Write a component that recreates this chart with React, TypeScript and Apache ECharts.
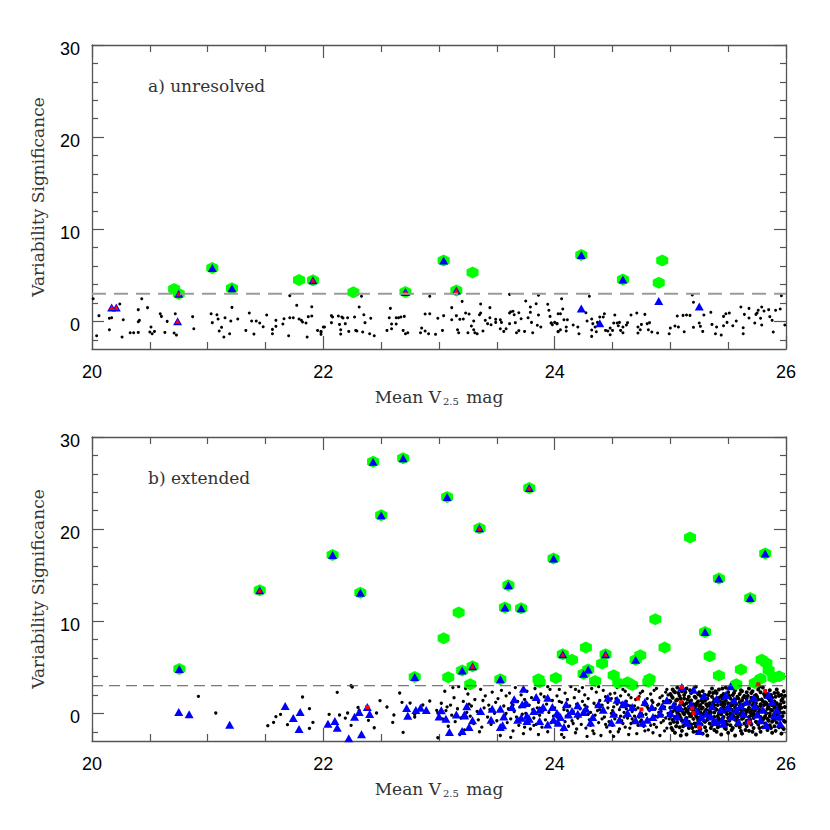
import React, { useEffect, useRef } from "react";
import * as echarts from "echarts";

const xLabelTicks = [20, 22, 24, 26];
const yMajor = [0, 10, 20, 30];
const yMinor = [-2, 2, 4, 6, 8, 12, 14, 16, 18, 22, 24, 26, 28];
const threshold = 3;

// ---------- panel a) unresolved ----------
const aBlack = [
  [20.01,2.46],[20.06,0.62],[20.04,-1.56],[20.15,0.33],[20.17,0.40],[20.15,-0.91],[20.24,1.88],[20.27,0.18],[20.26,-1.70],[20.33,-1.23],[20.36,-1.23],[20.40,1.27],[20.41,0.11],[20.40,-0.04],[20.40,-1.20],[20.43,2.46],[20.48,1.49],[20.51,-0.62],[20.50,-1.16],[20.54,-1.09],[20.52,-1.34],[20.59,0.83],[20.60,0.54],[20.65,0.00],[20.63,-1.20],[20.72,0.83],[20.71,-1.27],[20.73,-1.49],[20.87,0.51],[20.88,-0.80],[21.03,0.83],[21.08,0.72],[21.04,-0.14],[21.09,0.25],[21.12,-0.65],[21.10,-1.05],[21.15,0.40],[21.20,0.04],[21.21,1.52],[21.19,-1.34],[21.26,0.25],[21.14,-1.70],[21.33,-0.98],[21.36,0.91],[21.38,0.04],[21.40,-1.38],[21.42,0.04],[21.45,-0.18],[21.48,-0.58],[21.51,0.69],[21.56,-1.34],[21.56,-0.87],[21.59,-0.54],[21.59,0.11],[21.65,-0.29],[21.66,0.29],[21.71,0.40],[21.74,0.40],[21.71,2.79],[21.77,1.74],[21.70,-1.56],[21.79,0.25],[21.81,0.11],[21.82,-0.07],[21.85,-0.18],[21.86,-1.70],[21.87,0.51],[21.90,0.58],[21.90,1.59],[21.95,-0.98],[21.98,-1.09],[21.98,-1.41],[22.00,-0.62],
  [21.98,-1.16],[22.01,-0.62],[22.07,0.62],[22.07,-0.14],[22.08,0.47],[22.13,0.58],[22.14,-0.33],[22.15,-0.91],[22.15,-1.38],[22.16,0.47],[22.17,0.36],[22.19,-0.25],[22.21,0.40],[22.22,-1.09],[22.27,0.47],[22.28,-0.98],[22.29,-1.05],[22.31,1.56],[22.35,0.72],[22.36,-0.14],[22.34,-1.16],[22.40,-1.34],[22.41,0.33],[22.44,-1.56],[22.33,2.72],[22.55,-0.98],[22.57,0.40],[22.58,1.41],[22.59,-0.29],[22.59,-0.80],[22.63,-0.29],[22.63,0.40],[22.65,0.40],[22.67,0.47],[22.70,0.54],[22.69,-0.98],[22.71,-1.34],[22.73,-1.23],[22.84,-1.23],[22.85,-0.73],[22.88,0.80],[22.88,-1.05],[22.92,0.83],[22.92,2.72],[22.91,-1.34],[22.97,-1.41],[22.99,0.33],[23.03,-0.98],[23.04,0.62],[23.11,0.18],[23.11,1.49],[23.15,0.62],[23.16,-0.91],[23.17,-1.23],[23.18,0.22],[23.20,2.17],[23.21,0.25],[23.23,0.91],[23.25,-1.23],[23.26,0.80],[23.28,-0.51],[23.30,0.04],[23.30,-0.91],[23.31,-1.23],[23.33,-1.34],[23.35,0.72],[23.36,0.91],[23.36,1.88],[23.38,-1.05],[23.40,0.11],[23.42,-0.25],[23.44,1.49],[23.44,0.40],[23.45,-0.36],[23.49,0.22],[23.49,-0.11],[23.53,-0.80],[23.53,0.18],[23.54,-0.11],[23.56,-1.09],[23.58,-0.80],[23.61,2.93],[23.61,-0.25],[23.61,0.91],[23.62,1.05],[23.64,1.09],[23.65,0.72],[23.66,-0.14],[23.67,-1.23],[23.69,0.94],[23.69,-1.01],[23.71,0.29],[23.74,-1.09],[23.75,2.21],[23.77,0.40],[23.79,1.56],[23.79,0.98],[23.80,-0.11],[23.81,-1.23],[23.84,1.92],[23.85,-0.43],[23.86,2.83],[23.86,0.69],[23.88,-0.62],[23.94,1.85],[23.95,1.20],[23.97,-0.18],[23.96,0.54],[23.98,-0.36],[24.02,-0.25],[24.03,0.83],[24.03,-1.09],
  [23.97,-0.18],[24.00,-0.11],[24.02,-0.25],[24.05,-0.91],[24.05,0.83],[24.07,1.34],[24.08,0.18],[24.06,2.46],[24.03,-1.12],[24.10,-1.05],[24.11,0.18],[24.10,-0.62],[24.16,-0.40],[24.20,-0.62],[24.21,-1.34],[24.27,0.94],[24.28,0.04],[24.30,2.72],[24.32,0.25],[24.32,-0.94],[24.32,-1.63],[24.33,-0.25],[24.35,-0.62],[24.36,-1.12],[24.37,-0.11],[24.39,0.47],[24.42,0.47],[24.43,0.83],[24.44,-0.98],[24.46,-1.05],[24.48,-0.73],[24.48,-1.45],[24.50,-0.98],[24.51,-0.18],[24.52,0.69],[24.54,-0.18],[24.55,-0.47],[24.56,-0.11],[24.57,-0.98],[24.59,-0.62],[24.59,-1.23],[24.62,-0.40],[24.63,-0.14],[24.66,0.69],[24.71,0.91],[24.72,-0.62],[24.72,-1.27],[24.74,-0.91],[24.75,-0.33],[24.78,0.76],[24.80,-0.25],[24.81,-0.91],[24.82,-0.14],[24.84,-1.16],[24.89,-1.27],[24.99,-1.34],[25.00,-0.73],[25.04,-0.51],[25.06,0.58],[25.07,-0.62],[25.11,0.65],[25.12,-1.12],[25.14,0.69],[25.17,0.65],[25.19,2.86],[25.20,2.07],[25.20,-0.65],[25.25,-0.18],[25.26,-0.54],[25.28,-1.09],[25.29,0.69],[25.35,0.98],[25.36,-0.33],[25.39,-1.34],[25.40,-0.62],[25.44,-1.49],[25.46,-0.47],[25.46,0.54],[25.48,0.83],[25.49,-0.11],[25.51,0.91],[25.54,-0.47],[25.57,0.04],[25.61,1.56],[25.63,-0.69],[25.63,-1.34],[25.64,0.76],[25.68,1.41],[25.68,0.36],[25.73,-0.18],[25.74,0.76],[25.75,0.91],[25.76,1.20],[25.78,0.33],[25.79,1.56],[25.79,-0.40],[25.81,1.12],[25.85,1.27],[25.86,0.51],[25.89,-1.16],[25.88,0.11],[25.91,1.20],[25.95,1.34],[25.96,2.79],[25.99,-0.40]
];
const aGreen = [
  [20.71,3.5],[20.75,3.0],[21.04,5.8],[21.21,3.6],[21.79,4.5],[21.91,4.45],[22.26,3.15],[22.71,3.2],
  [23.04,6.6],[23.29,5.3],[23.15,3.35],[24.23,7.2],[24.59,4.55],[24.93,6.6],[24.90,4.2]
];
const aBlue = [
  [20.17,1.5],[20.21,1.5],[20.74,0.0],[20.75,3.0],[21.04,5.8],[21.21,3.6],[21.91,4.45],[22.71,3.2],
  [23.04,6.6],[23.15,3.35],[24.23,7.2],[24.59,4.55],[24.23,1.4],[24.39,-0.2],[24.90,2.2],[25.25,1.6]
];
const aRed = [[20.17,1.5],[20.21,1.5],[20.74,0.0],[20.75,3.0],[21.91,4.45],[22.71,3.2],[23.15,3.35]];

// ---------- panel b) extended ----------
const bBlack = [
  [20.92,1.85],[21.07,0.04],[21.52,-1.34],[21.57,-0.98],[21.59,-0.36],[21.63,-0.11],[21.69,-1.23],[21.82,1.78],[21.88,0.51],[21.88,-1.63],[21.91,-0.98],[22.05,-0.11],[22.12,2.28],[22.14,-0.18],[22.19,-0.51],[22.21,0.04],[22.24,-1.30],[22.25,2.86],[22.24,3.0],[22.30,0.65],[22.31,0.33],[22.39,-0.76],[22.44,-1.56],[22.46,0.04],[22.49,1.38],[22.55,0.69],[22.60,-0.98],[22.61,-0.18],[22.66,2.21],[22.68,1.20],[22.69,-2.07],[22.75,1.12],[22.79,-0.11],[22.79,-0.40],[22.86,0.91],[22.92,1.34],[22.98,0.33],[22.99,0.04],[22.99,-2.65],
  [23.02,1.1],[23.03,-0.6],[23.05,2.4],[23.06,0.3],[23.08,-1.4],[23.10,0.9],[23.11,-0.2],[23.13,1.7],[23.14,-0.9],[23.16,0.5],[23.17,2.9],[23.19,-0.5],[23.21,1.3],[23.22,-1.8],[23.24,0.1],[23.25,2.1],[23.27,-0.3],[23.28,0.8],[23.30,-1.1],[23.31,1.5],[23.33,0.2],[23.34,-0.7],[23.36,2.6],[23.37,-1.5],[23.39,0.6],[23.40,1.9],[23.42,-0.4],[23.43,0.9],[23.45,-1.2],[23.46,2.3],[23.48,0.0],[23.49,1.2],[23.12,2.8],[23.18,-2.3],[23.26,1.0],[23.35,-2.0],[23.44,0.4],[23.07,0.7],[23.23,2.7],[23.38,1.4],
  [23.50,-0.8],[23.51,1.6],[23.52,0.3],[23.54,2.5],[23.55,-1.6],[23.56,0.8],[23.57,-0.2],[23.58,1.9],[23.59,-1.0],[23.60,0.5],[23.61,2.2],[23.62,-0.6],[23.63,1.1],[23.64,-1.9],[23.65,0.2],[23.66,2.8],[23.67,-0.4],[23.68,1.3],[23.69,-1.3],[23.70,0.7],[23.71,2.0],[23.72,-0.1],[23.73,-2.2],[23.74,1.5],[23.75,0.0],[23.76,2.4],[23.77,-0.9],[23.78,0.9],[23.79,-1.7],[23.80,1.7],[23.81,0.4],[23.82,-0.5],[23.83,2.7],[23.84,-1.2],[23.85,0.6],[23.86,1.2],[23.87,-0.2],[23.88,2.1],[23.89,-1.5],[23.90,0.3],[23.91,1.8],[23.92,-0.7],[23.93,1.0],[23.94,-2.0],[23.95,0.1],[23.96,2.6],[23.97,-1.0],[23.98,1.4],[23.99,-0.3],[23.53,-2.4],[23.58,0.0],[23.64,0.9],[23.70,-0.7],[23.76,1.1],[23.82,-1.3],[23.88,0.5],[23.94,2.9],[23.62,-2.6],[23.74,-1.5],[23.86,-2.3],
  [24.00,0.6],[24.01,-1.1],[24.02,1.9],[24.03,0.0],[24.04,2.6],[24.05,-0.6],[24.06,1.2],[24.07,-1.8],[24.08,0.4],[24.09,2.2],[24.10,-0.3],[24.11,1.5],[24.12,-1.4],[24.13,0.8],[24.14,2.9],[24.15,-0.8],[24.16,0.2],[24.17,1.7],[24.18,-2.1],[24.19,1.0],[24.20,-0.5],[24.21,2.4],[24.22,0.5],[24.23,-1.2],[24.24,1.3],[24.25,-0.1],[24.26,2.0],[24.27,-1.6],[24.28,0.7],[24.29,1.6],[24.30,-0.7],[24.31,0.1],[24.32,2.7],[24.33,-1.9],[24.34,1.1],[24.35,-0.2],[24.36,2.3],[24.37,0.3],[24.38,-1.0],[24.39,1.4],[24.40,-2.4],[24.41,0.9],[24.42,2.5],[24.43,-0.4],[24.44,1.8],[24.45,-1.5],[24.46,0.6],[24.47,-0.9],[24.48,2.1],[24.49,0.0],[24.02,-0.4],[24.06,-2.3],[24.11,0.3],[24.16,-1.1],[24.21,-0.2],[24.26,0.9],[24.31,-1.3],[24.36,0.8],[24.41,-0.6],[24.46,1.2],[24.04,1.3],[24.09,-0.9],[24.14,0.0],[24.19,-1.7],[24.24,2.8],[24.29,-0.1],[24.34,-2.2],[24.39,0.4],[24.44,-1.2],[24.49,1.6],[24.08,-2.6],[24.18,2.6],[24.28,-2.5],[24.38,2.9],[24.48,-2.0],
  [24.50,-1.3],[24.51,0.7],[24.52,2.2],[24.53,-0.2],[24.54,1.0],[24.55,-2.0],[24.56,0.4],[24.57,1.9],[24.58,-0.8],[24.59,2.6],[24.60,0.1],[24.61,-1.5],[24.62,1.3],[24.63,-0.5],[24.64,2.0],[24.65,0.8],[24.66,-1.1],[24.67,0.2],[24.68,2.8],[24.69,-0.3],[24.70,1.5],[24.71,-2.2],[24.72,0.6],[24.73,1.8],[24.74,-0.9],[24.75,0.0],[24.76,2.4],[24.77,-1.4],[24.78,0.9],[24.79,-0.1],[24.80,1.6],[24.81,-1.8],[24.82,0.3],[24.83,2.1],[24.84,-0.6],[24.85,1.2],[24.86,-1.2],[24.87,0.5],[24.88,2.7],[24.89,-0.4],[24.90,1.0],[24.91,-2.4],[24.92,0.2],[24.93,1.9],[24.94,-0.8],[24.95,0.7],[24.96,2.3],[24.97,-1.6],[24.98,0.0],[24.99,1.4],
  [24.50,0.3],[24.52,-0.6],[24.54,2.8],[24.56,-1.7],[24.58,1.1],[24.60,-0.4],[24.62,0.5],[24.64,-2.3],[24.66,1.7],[24.68,-0.9],[24.70,0.4],[24.72,-1.3],[24.74,2.2],[24.76,-0.2],[24.78,-1.9],[24.80,0.7],[24.82,-0.7],[24.84,1.4],[24.86,2.5],[24.88,-1.5],[24.90,0.1],[24.92,-1.0],[24.94,1.3],[24.96,-0.5],[24.98,2.0],[24.51,-2.5],[24.55,1.4],[24.59,-1.1],[24.63,0.9],[24.67,-0.6],[24.71,2.9],[24.75,-0.7],[24.79,1.0],[24.83,-1.3],[24.87,-0.3],[24.91,1.7],[24.95,-1.9],[24.99,-0.6],[24.53,1.6],[24.57,-0.3],[24.61,2.4],[24.65,-1.6],[24.69,0.8],[24.73,-0.4],[24.77,1.2],[24.81,0.5],[24.85,-2.1],[24.89,0.9],[24.93,-0.2],[24.97,2.6]
];
// faintest magnitudes: each row is [mag, significances...]
const bBlackColumns = [
  [25.00,-1.1,0.6,2.1,-0.3,1.3],[25.01,-0.2,1.9,-1.6],[25.02,0.2,-1.8,1.7,-0.7,2.6],[25.03,0.9,-0.9,2.4],
  [25.04,-0.4,1.0,-2.1,0.5,2.3],[25.05,-1.4,0.3,1.4],[25.06,1.5,-1.0,0.0,2.8,-0.6],[25.07,0.6,-0.1,2.2],
  [25.08,-1.5,0.8,1.9,-0.2,0.3],[25.09,-0.5,1.6,-2.4],[25.10,0.4,-0.8,2.4,-1.9,1.2],[25.11,1.0,-1.4,0.1],
  [25.12,-0.1,1.6,-1.3,0.9,2.0],[25.13,-0.7,2.3,0.5],[25.14,1.1,-0.5,-2.3,0.2,2.7],[25.15,0.3,-1.1,1.5],
  [25.16,-0.9,0.7,1.8,-1.6,0.0],[25.17,1.2,-0.3,2.5],[25.18,0.5,-1.2,2.2,-0.3,1.4],[25.19,-1.6,0.8,0.0],
  [25.20,-0.6,1.0,-2.0,0.3,2.5],[25.21,0.6,-1.1,1.8],[25.22,1.7,-0.2,-1.4,0.8,2.9],[25.23,-0.4,1.1,-2.0],
  [25.24,-1.0,0.4,1.3,-0.7,2.1],[25.25,0.8,-0.5,2.3],[25.26,0.1,-1.7,1.9,-0.4,0.9],[25.27,-1.2,0.5,1.4],
  [25.28,-0.3,1.2,-2.2,0.6,2.4],[25.29,0.0,-0.8,1.8],[25.30,1.4,-0.9,0.2,-1.5,2.0],[25.31,1.0,-1.9,0.4],
  [25.32,-0.7,0.8,1.6,-2.4,0.0],[25.33,-0.4,2.0,1.0],[25.34,0.3,-1.1,2.3,-0.2,1.1],[25.35,0.7,-1.6,0.1],
  [25.36,-1.3,0.6,1.8,-0.5,2.7],[25.37,-0.9,1.2,2.2],[25.38,0.9,-0.4,-1.8,0.1,1.5],[25.39,0.5,-1.1,2.4],
  [25.40,-0.8,1.3,0.4,-2.0,2.2],[25.41,-0.3,0.9,-1.5],[25.42,0.0,-1.4,1.7,-0.6,2.6],[25.43,1.3,-0.9,0.3],
  [25.44,1.0,-0.1,-2.3,0.5,1.9],[25.45,-0.6,1.6,2.7],[25.46,-1.2,0.7,2.1,-0.4,1.2],[25.47,0.3,-1.6,1.0],
  [25.48,0.2,-0.9,1.4,-1.7,2.8],[25.49,-0.1,0.6,-1.2],[25.50,-0.5,1.1,0.3,-2.1,2.3],[25.51,1.9,-0.8,0.5],
  [25.52,1.6,-1.3,0.0,-0.3,0.8],[25.53,-1.8,0.4,1.1],[25.54,-0.2,0.9,2.0,-1.6,1.3],[25.55,0.2,-0.4,2.2],
  [25.56,0.6,-0.7,-2.4,1.5,2.5],[25.57,-1.3,1.0,0.0],[25.58,-1.0,0.3,1.8,-0.4,2.9],[25.59,0.5,-0.8,1.6],
  [25.60,0.8,-1.5,1.2,-0.1,2.1],[25.61,-1.9,0.4,2.5],[25.62,-0.6,1.4,0.1,-2.2,2.4],[25.63,0.9,-0.5,1.7],
  [25.64,0.4,-1.1,1.9,-0.3,1.0],[25.65,-0.1,1.1,-1.8],[25.66,-1.4,0.2,2.3,-0.8,1.6],[25.67,0.4,-1.0,1.9],
  [25.68,1.1,-0.4,-1.9,0.6,2.7],[25.69,-0.7,1.3,0.1],[25.70,-0.2,1.7,0.3,-1.2,2.2],[25.71,0.9,-2.0,2.4],
  [25.72,0.7,-1.6,1.3,-0.5,0.0],[25.73,-0.2,1.1,0.3],[25.74,-0.9,0.5,2.0,-2.3,1.1],[25.75,0.7,-1.0,1.8],
  [25.76,0.1,-1.2,1.5,-0.2,2.6],[25.77,-1.6,0.4,2.9],[25.78,-0.4,1.0,-2.0,0.8,2.3],[25.79,0.2,-0.9,1.5],
  [25.80,1.3,-0.7,0.4,-1.5,2.8],[25.81,-0.5,0.9,2.1],[25.82,-1.1,0.2,1.8,-0.3,1.2],[25.83,1.1,-1.3,0.0],
  [25.84,0.5,-1.8,2.1,-0.6,0.9],[25.85,-0.8,0.7,1.6],[25.86,-0.3,1.4,-1.3,0.0,2.5],[25.87,0.4,-1.6,2.0],
  [25.88,0.9,-0.9,1.7,-2.1,0.3],[25.89,-0.2,1.1,-0.6],[25.90,-0.7,0.6,2.2,-1.4,1.3],[25.91,0.9,-1.9,1.8],
  [25.92,0.2,-1.0,1.1,-0.2,2.6],[25.93,-0.5,0.5,2.2],[25.94,-1.5,0.8,1.9,-0.6,0.4],[25.95,1.0,-1.2,0.1],
  [25.96,0.6,-0.4,-2.2,1.4,2.0],[25.97,-0.3,1.6,-1.5],[25.98,-0.8,1.2,0.1,-1.7,2.4],[25.99,0.7,-0.9,1.9]
];
const bGreen = [
  [20.755,4.82],[21.45,13.37],[22.08,17.2],[22.32,13.08],[22.43,27.3],[22.50,21.5],[22.69,27.7],[22.79,3.95],
  [23.07,23.5],[23.78,24.46],[23.35,20.1],[23.99,16.8],[23.60,13.9],[23.57,11.5],[23.71,11.4],[23.17,10.95],
  [23.04,8.15],[25.17,19.1],[25.82,17.36],[25.42,14.64],[25.69,12.53],[24.87,10.22],[25.30,8.84],[24.27,7.14],
  [24.95,7.14],[25.34,6.2],[24.07,6.41],[24.44,6.41],[24.74,6.3],[24.15,5.83],[24.70,5.83],[25.79,5.83],
  [24.41,5.4],[25.83,5.47],[25.61,4.75],[25.85,4.67],[23.20,4.64],[23.29,5.11],[24.29,4.75],[24.25,4.31],
  [23.08,3.91],[23.53,3.70],[23.27,3.15],[23.86,3.70],[23.87,3.37],[24.01,3.84],[24.35,3.51],[24.51,4.13],
  [24.55,3.29],[24.63,3.37],[24.67,3.08],[24.81,3.44],[24.82,3.73],[25.42,4.10],[25.57,3.15],[25.73,3.29],
  [25.78,3.77],[25.89,3.88],[25.94,4.02]
];
const bBlue = [
  [20.755,4.82],[21.45,13.37],[22.08,17.2],[22.32,13.08],[22.43,27.3],[22.50,21.5],[22.69,27.7],[22.79,3.95],
  [23.07,23.5],[23.78,24.46],[23.35,20.1],[23.99,16.8],[23.60,13.9],[23.57,11.5],[23.71,11.4],[25.82,17.36],
  [25.42,14.64],[25.69,12.53],[25.30,8.84],[24.07,6.41],[24.44,6.41],[24.70,5.83],[23.20,4.64],[23.29,5.11],
  [24.29,4.75],[24.25,4.31],[23.53,3.70],[25.10,2.86],
  [20.75,0.15],[20.84,-0.1],[21.19,-1.23],[21.67,0.8],[21.74,-0.5],[21.80,0.15],[21.79,-1.7],[22.04,-1.13],
  [22.10,-0.83],[22.12,-1.56],[22.22,-2.7],[22.27,-0.36],[22.31,0.15],[22.33,-2.28],[22.40,-0.07],[22.38,0.69],
  [22.72,0.58],[22.73,-0.25],[22.80,0.36],[22.84,0.62],[22.89,0.36],[23.00,-0.33],
  [23.02,0.33],[23.09,-2.03],[23.20,-1.92],[23.24,0.76],[23.22,-0.11],[23.29,-0.76],[23.22,-0.22],[23.36,0.25],
  [23.45,-0.69],[23.46,0.51],[23.53,-1.49],[23.55,-1.30],[23.53,0.51],[23.56,-0.33],[23.63,0.69],[23.65,1.52],
  [23.72,0.98],[23.73,2.68],[23.75,1.12],[23.71,-0.47],[23.68,-0.69],[23.76,-0.83],[23.76,-0.25],[23.82,0.25],
  [23.84,1.78],[23.87,0.40],[23.90,0.69],[23.87,-0.83],[23.94,1.70],[23.94,-1.20],[23.98,0.69],[24.02,0.04],
  [24.05,-0.40],[24.03,-1.01],[24.08,-1.49],[24.10,0.98],[24.12,-0.11],[24.15,0.25],[24.20,0.87],[24.20,-0.04],
  [24.27,0.51],[24.31,-0.98],[24.33,-0.40],[24.38,0.98],[24.42,0.40],[24.46,1.70],[24.49,-0.98],[24.51,-0.04],
  [24.54,1.49],[24.56,-0.69],[24.59,0.98],[24.61,1.12],[24.63,0.04],[24.67,0.69],[24.70,-0.76],[24.74,-0.04],
  [24.76,-1.01],[24.78,1.23],[24.84,0.69],[24.85,-0.40],[24.91,-0.04],[24.93,0.76],[24.97,1.41],[25.00,0.04],
  [25.03,0.91],[25.06,-0.33],[25.08,0.69],[25.13,-0.69],[25.15,-1.01],[25.18,0.98],[25.20,2.57],[25.23,0.25],
  [25.25,-0.90],[25.25,-1.92],[25.29,1.92],[25.31,-0.04],[25.35,-0.33],[25.36,0.76],[25.38,-0.94],[25.40,1.59],
  [25.44,0.40],[25.45,-0.69],[25.48,2.00],[25.50,0.69],[25.52,2.93],[25.53,-0.33],[25.55,1.41],[25.57,0.40],
  [25.59,-0.94],[25.61,0.83],[25.63,-0.04],[25.66,1.27],[25.68,-0.76],[25.72,1.70],[25.73,0.83],[25.75,-0.11],
  [25.78,-0.76],[25.80,0.40],[25.83,-1.27],[25.85,2.00],[25.88,1.27],[25.90,-0.22],[25.92,0.40],[25.94,-0.33],
  [25.95,-1.12],[25.46,-1.12],[25.40,-0.90],[25.27,-0.40],[24.80,-0.69],[24.25,0.14],[23.99,-0.69],[23.78,-0.58],
  [23.06,-0.58],[23.15,-0.11],[23.26,-1.49]
];
const bRedOnGreen = [[21.45,13.37],[23.35,20.1],[23.78,24.46],[24.07,6.41],[24.44,6.41],[23.29,5.11]];
const bRed = [
  [22.38,0.69],[24.72,1.6],[24.75,0.43],[25.09,1.2],[25.19,0.54],[25.20,0.03],[25.25,-1.49],[25.68,-0.98],
  [25.10,2.86],[25.76,3.15],[25.82,2.43]
];

const HEX = "path://M50,0L93.3,25L93.3,75L50,100L6.7,75L6.7,25Z";
const AXIS_COLOR = "#555";
const TICK_FONT = "Liberation Sans";
const TITLE_FONT = "DejaVu Serif";

function xAxes(gi: number) {
  const common = {
    type: "value",
    gridIndex: gi,
    min: 20,
    max: 26,
    interval: 2,
    axisLine: { show: true, onZero: false, lineStyle: { color: AXIS_COLOR, width: 1.3 } },
    axisTick: { show: true, inside: true, length: 13, lineStyle: { color: AXIS_COLOR, width: 1.2 } },
    minorTick: { show: true, splitNumber: 4, length: 7, lineStyle: { color: AXIS_COLOR, width: 1.2 } },
    splitLine: { show: false },
    minorSplitLine: { show: false },
  };
  return [
    {
      ...common,
      position: "bottom",
      axisLabel: {
        show: true,
        customValues: xLabelTicks,
        margin: 14,
        fontFamily: TICK_FONT,
        fontSize: 18,
        color: "#000",
      },
      name: "Mean V{sub|2.5} mag",
      nameLocation: "middle",
      nameGap: 38,
      nameTextStyle: {
        fontFamily: TITLE_FONT,
        fontSize: 17,
        color: "#333",
        rich: {
          sub: { fontFamily: TITLE_FONT, fontSize: 10, color: "#333", padding: [9, 2, 0, 2] },
        },
      },
    },
    { ...common, position: "top", axisLabel: { show: false } },
  ];
}

function yAxes(gi: number) {
  const base = {
    type: "value",
    gridIndex: gi,
    min: -3,
    max: 30,
    splitLine: { show: false },
  };
  const major = (pos: string, withLabels: boolean) => ({
    ...base,
    position: pos,
    axisLine: { show: true, onZero: false, lineStyle: { color: AXIS_COLOR, width: 1.3 } },
    axisTick: { show: true, inside: true, length: 12, customValues: yMajor, lineStyle: { color: AXIS_COLOR, width: 1.2 } },
    axisLabel: withLabels
      ? { show: true, customValues: yMajor, margin: 12, fontFamily: TICK_FONT, fontSize: 18, color: "#000", lineHeight: 8, verticalAlign: "top" }
      : { show: false },
    ...(withLabels
      ? {
          name: "Variability Significance",
          nameLocation: "middle",
          nameGap: 46,
          nameTextStyle: { fontFamily: TITLE_FONT, fontSize: 17, color: "#333" },
        }
      : {}),
  });
  const minor = (pos: string) => ({
    ...base,
    position: pos,
    axisLine: { show: false, onZero: false },
    axisTick: { show: true, inside: true, length: 6, customValues: yMinor, lineStyle: { color: AXIS_COLOR, width: 1.2 } },
    axisLabel: { show: false },
  });
  return [major("left", true), minor("left"), major("right", false), minor("right")];
}

function scatter(xi: number, yi: number, data: number[][], symbol: string, size: any, color: string) {
  return {
    type: "scatter",
    xAxisIndex: xi,
    yAxisIndex: yi,
    data,
    symbol,
    symbolSize: size,
    itemStyle: { color, opacity: 1 },
    emphasis: { disabled: true },
  };
}

function panelSeries(
  xi: number,
  yi: number,
  black: number[][],
  blackSize: number,
  blackBig: number[][],
  green: number[][],
  blue: number[][],
  redTri: number[][],
  redSq: number[][],
  dash: { color: string; width: number; type: number[] }
) {
  const s: any[] = [
    {
      type: "line",
      xAxisIndex: xi,
      yAxisIndex: yi,
      data: [[20, threshold], [26, threshold]],
      symbol: "none",
      silent: true,
      lineStyle: { color: dash.color, width: dash.width, type: dash.type },
    },
    scatter(xi, yi, black, "circle", blackSize, "#000"),
  ];
  if (blackBig.length) s.push(scatter(xi, yi, blackBig, "circle", 4, "#000"));
  s.push(
    scatter(xi, yi, green, HEX, [12, 12], "#00ff00"),
    scatter(xi, yi, blue, "triangle", [9, 8], "#0000ff"),
    scatter(xi, yi, redTri, "triangle", [5, 5], "#ff0000")
  );
  if (redSq.length) s.push(scatter(xi, yi, redSq, "rect", 4, "#ff0000"));
  return s;
}

export default function App() {
  const ref = useRef<HTMLDivElement>(null);
  useEffect(() => {
    if (!ref.current) return;
    const chart = echarts.init(ref.current, undefined, { renderer: "svg" });
    const colPoints: number[][] = [];
    bBlackColumns.forEach((row) => {
      for (let i = 1; i < row.length; i++) colPoints.push([row[0], row[i]]);
    });
    const option: any = {
      animation: false,
      backgroundColor: "#fff",
      grid: [
        { left: 92, top: 45, width: 694, height: 304 },
        { left: 92, top: 437, width: 694, height: 304 },
      ],
      xAxis: [...xAxes(0), ...xAxes(1)],
      yAxis: [...yAxes(0), ...yAxes(1)],
      series: [
        ...panelSeries(0, 0, aBlack, 3, [], aGreen, aBlue, aRed, [], { color: "#9a9a9a", width: 2, type: [14, 8] }),
        ...panelSeries(2, 4, bBlack, 3.3, colPoints, bGreen, bBlue, bRedOnGreen, bRed, { color: "#555", width: 1, type: [11, 6] }),
      ],
      graphic: [
        {
          type: "text",
          x: 148,
          y: 86,
          style: { text: "a) unresolved", fontFamily: TITLE_FONT, fontSize: 17, fill: "#333", verticalAlign: "middle" },
        },
        {
          type: "text",
          x: 148,
          y: 478,
          style: { text: "b) extended", fontFamily: TITLE_FONT, fontSize: 17, fill: "#333", verticalAlign: "middle" },
        },
      ],
    };
    chart.setOption(option);
    return () => chart.dispose();
  }, []);
  return (
    <div
      ref={ref}
      style={{ position: "fixed", left: 0, top: 0, width: 830, height: 830, background: "#fff" }}
    />
  );
}
